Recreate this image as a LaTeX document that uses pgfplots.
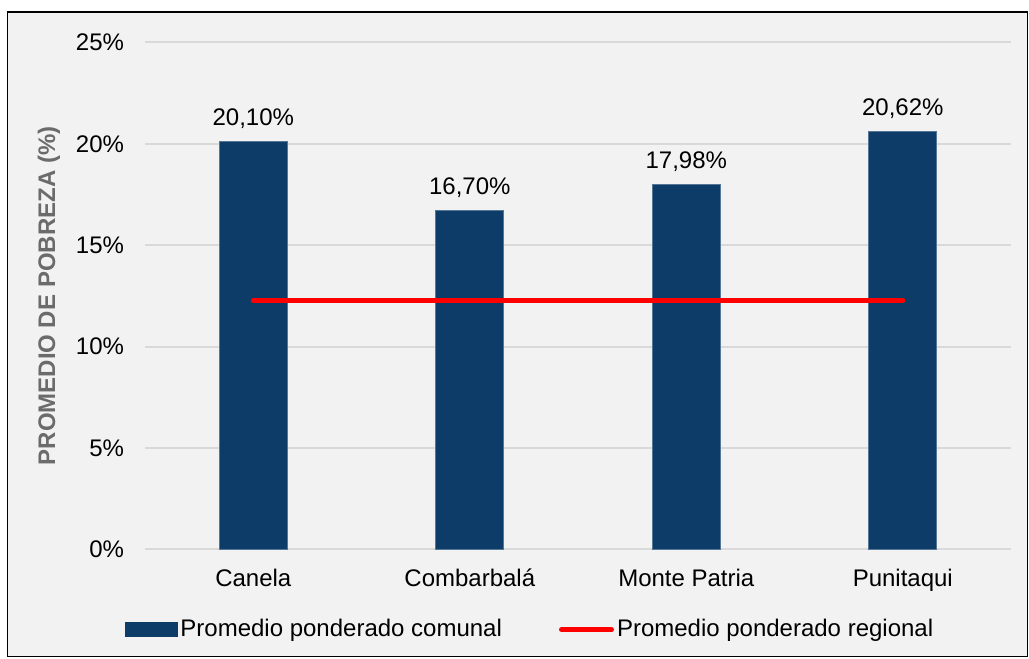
\documentclass[border=0pt]{standalone}
\usepackage{pgfplots}
\pgfplotsset{compat=1.18}
\usepackage{fontspec}
\setmainfont{Liberation Sans}
\definecolor{bgc}{HTML}{F2F2F2}
\definecolor{barc}{RGB}{14,60,105}
\definecolor{gridc}{HTML}{D9D9D9}
\definecolor{labc}{HTML}{6B6B6B}
\begin{document}
\begin{tikzpicture}[x=1pt,y=1pt]
\fill[white] (0,0) rectangle (514.5,329.5);
\draw[black, line width=0.6pt, fill=bgc] (3.8,1.2) rectangle (513.9,323.5);
\begin{axis}[
  at={(67,54)}, anchor=south west,
  scale only axis, width=433pt, height=253.5pt,
  xmin=-0.5, xmax=3.5, ymin=0, ymax=25,
  axis line style={draw=none},
  font=\fontsize{12}{14}\selectfont,
  ytick={0,5,10,15,20,25},
  yticklabels={0\%,5\%,10\%,15\%,20\%,25\%},
  xtick={0,1,2,3},
  xticklabels={Canela,Combarbalá,Monte Patria,Punitaqui},
  major tick length=0pt,
  ymajorgrids, grid style={gridc, line width=1pt},
  yticklabel style={anchor=east, xshift=-7pt},
  xticklabel style={anchor=base, yshift=-18.75pt},
  ylabel={\textbf{PROMEDIO DE POBREZA (\%)}},
  ylabel style={at={(axis description cs:-0.111,0.5)}, anchor=center, color=labc, font=\fontsize{12}{14}\selectfont},
  legend columns=2,
  legend style={at={(axis description cs:-0.024,-0.158)}, anchor=west, draw=none, fill=none, inner sep=0pt,
    font=\fontsize{12}{14}\selectfont,
    nodes={inner sep=1.5pt},
    /tikz/every even column/.append style={column sep=27pt}},
]
\addplot[ybar, bar width=34pt, fill=barc, draw=barc!70!white, line width=0.4pt,
  point meta=explicit symbolic,
  nodes near coords, nodes near coords align={vertical},
  every node near coord/.style={anchor=base, yshift=8pt, font=\fontsize{12}{14}\selectfont, color=black},
  legend image code/.code={\fill[barc] (0pt,-3.4pt) rectangle (26pt,3.4pt);}]
  coordinates {(0,20.10) [20,10\%] (1,16.70) [16,70\%] (2,17.98) [17,98\%] (3,20.62) [20,62\%]};
\addlegendentry{Promedio ponderado comunal}
\addplot[red, line width=2.5pt, line cap=round, mark=none,
  legend image code/.code={\draw[red, line width=2.5pt, line cap=round] (1pt,0pt) -- (26pt,0pt);}]
  coordinates {(0,12.28) (1,12.28) (2,12.28) (3,12.28)};
\addlegendentry{Promedio ponderado regional}
\end{axis}
\end{tikzpicture}
\end{document}
